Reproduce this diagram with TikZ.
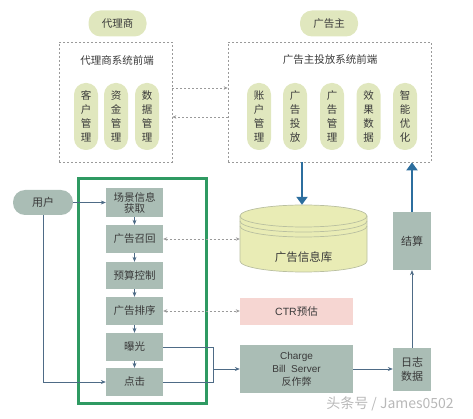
\documentclass[tikz,border=0pt]{standalone}
\usepackage{fontspec}
\setmainfont{Noto Sans CJK SC}
\newfontfamily\lat{Liberation Sans}
\usetikzlibrary{arrows.meta,calc}
\definecolor{pillg}{HTML}{E0E7BE}
\definecolor{boxg}{HTML}{AABDB5}
\definecolor{dbfill}{HTML}{E9ECB5}
\definecolor{dbline}{HTML}{B9BFA0}
\definecolor{ctrp}{HTML}{F6D6D2}
\definecolor{frameg}{HTML}{2F9A62}
\definecolor{arrc}{HTML}{4E6B86}
\definecolor{thickb}{HTML}{2C6E9E}
\definecolor{dashc}{HTML}{9A9A9A}
\definecolor{txt}{HTML}{3A3A3A}
\begin{document}
\begin{tikzpicture}[x=1pt,y=-1pt,
  font=\fontsize{10}{12}\selectfont, text=txt,
  pill/.style={fill=pillg, draw=none, rounded corners=12pt, inner sep=0pt, minimum width=58pt, minimum height=26pt, font=\fontsize{10.5}{12}\selectfont},
  vpill/.style={fill=pillg, draw=none, rounded corners=11.5pt, inner sep=0pt, minimum width=24pt, minimum height=67pt, align=center, font=\fontsize{10.5}{14}\selectfont},
  dbox/.style={draw=dashc, dash pattern=on 2pt off 2pt, line width=0.7pt, inner sep=0pt},
  proc/.style={fill=boxg, draw=none, inner sep=0pt, minimum width=57pt, align=center, font=\fontsize{10.5}{12}\selectfont},
  gbox/.style={fill=boxg, draw=none, inner sep=0pt, align=center},
  arr/.style={draw=arrc, line width=0.6pt, -{Stealth[length=5pt,width=4pt]}},
  ln/.style={draw=arrc, line width=0.6pt},
  darr/.style={draw=dashc, line width=0.6pt, dash pattern=on 2pt off 2pt, {Stealth[length=4pt,width=3.5pt]}-{Stealth[length=4pt,width=3.5pt]}},
  sarr/.style={draw=dashc, line width=0.6pt, dash pattern=on 2pt off 2pt, -{Stealth[length=4pt,width=3.5pt]}},
  thick arr/.style={draw=thickb, line width=2.6pt, -{Triangle[length=8pt,width=11pt]}}
]
\useasboundingbox (0,0) rectangle (473,419);

% top pills
\node[pill] (agent) at (117.5,23.5) {代理商};
\node[pill] (adv) at (329,23.5) {广告主};

% dashed boxes
\node[dbox, minimum width=113pt, minimum height=120pt] (fl) at (115.5,102) {};
\node[dbox, minimum width=203pt, minimum height=120pt] (fr) at (329.5,102) {};
\node[font=\fontsize{10.5}{12}\selectfont] (flt) at (117,60) {代理商系统前端};
\node[font=\fontsize{10.5}{12}\selectfont] (frt) at (330,60) {广告主投放系统前端};

% vertical pills
\node[vpill] (p1) at (86,116.5) {客\\户\\管\\理};
\node[vpill] (p2) at (116,116.5) {资\\金\\管\\理};
\node[vpill] (p3) at (147,116.5) {数\\据\\管\\理};
\node[vpill] (q1) at (259,116.5) {账\\户\\管\\理};
\node[vpill] (q2) at (295,116.5) {广\\告\\投\\放};
\node[vpill] (q3) at (332,116.5) {广\\告\\管\\理};
\node[vpill] (q4) at (368.5,116.5) {效\\果\\数\\据};
\node[vpill] (q5) at (405,116.5) {智\\能\\优\\化};

% arrows between front ends
\draw[sarr] ([yshift=14pt]fl.east) -- ([yshift=14pt]fl.east -| fr.west);
\draw[sarr] ([yshift=-15pt]fr.west) -- ([yshift=-15pt]fr.west -| fl.east);

% user
\node[fill=boxg, rounded corners=12pt, inner sep=0pt, minimum width=60pt, minimum height=25pt, font=\fontsize{11}{12}\selectfont] (user) at (43,202.5) {用户};

% green frame
\draw[frameg, line width=3pt] (78,179) rectangle (206,403);

% process boxes
\node[proc, minimum height=29pt, font=\fontsize{10.5}{11}\selectfont] (s1) at (134.5,202.5) {场景信息\\获取};
\node[proc, minimum height=28pt] (s2) at (134.5,239) {广告召回};
\node[proc, minimum height=27pt] (s3) at (134.5,275.5) {预算控制};
\node[proc, minimum height=28pt] (s4) at (134.5,311) {广告排序};
\node[proc, minimum height=28pt] (s5) at (134.5,347) {曝光};
\node[proc, minimum height=28pt] (s6) at (134.5,382) {点击};

% database
\fill[dbfill] (240,216) -- (240,261) arc[start angle=180, end angle=360, x radius=63.5pt, y radius=11pt] -- (367,216) arc[start angle=0, end angle=180, x radius=63.5pt, y radius=11pt] -- cycle;
\draw[dbline, line width=0.7pt] (240,216) -- (240,261) arc[start angle=180, end angle=360, x radius=63.5pt, y radius=11pt] -- (367,216);
\draw[dbline, line width=0.7pt] (303.5,216) ellipse[x radius=63.5pt, y radius=11pt];
\draw[dbline, line width=0.7pt] (240,221) arc[start angle=180, end angle=360, x radius=63.5pt, y radius=11pt];
\draw[dbline, line width=0.7pt] (240,226) arc[start angle=180, end angle=360, x radius=63.5pt, y radius=11pt];
\node[inner sep=0pt, minimum width=127pt, minimum height=67pt] (db) at (303.5,238.5) {};
\node[font=\fontsize{11.5}{13}\selectfont] (dbt) at (303.5,257) {广告信息库};

% right column
\node[gbox, minimum width=38pt, minimum height=58pt, font=\fontsize{11}{12}\selectfont] (js) at (412,241) {结算};
\node[fill=ctrp, inner sep=0pt, minimum width=113pt, minimum height=27pt, font=\fontsize{10.5}{12}\selectfont] (ctr) at (296.5,311.5) {{\lat CTR}预估};
\node[gbox, minimum width=113pt, minimum height=48pt, font=\fontsize{10}{13}\selectfont] (chg) at (296.5,369) {{\lat Charge}\\{\lat Bill\ \ Server}\\反作弊};
\node[gbox, minimum width=38pt, minimum height=43pt, font=\fontsize{11}{14}\selectfont] (log) at (412,369.5) {日志\\数据};

% flow connectors
\draw[arr] (user.east) -- (s1.west);
\draw[arr] (user.south) |- (s6.west);
\draw[arr] (s1) -- (s2);
\draw[arr] (s2) -- (s3);
\draw[arr] (s3) -- (s4);
\draw[arr] (s4) -- (s5);
\draw[arr] (s5) -- (s6);
\coordinate (J) at (213,369);
\draw[ln] (s5.east) -| (J);
\draw[ln] (s6.east) -| (J);
\draw[arr] (J) -- (chg.west);
\draw[darr] (s2.east) -- (s2.east -| db.west);
\draw[darr] (s4.east) -- (s4.east -| ctr.west);
\draw[arr] (chg.east) -- (chg.east -| log.west);
\draw[arr] (log.north) -- (js.south);

% thick arrows
\draw[thick arr] (fr.south -| 302,0) -- (db.north -| 302,0);
\draw[thick arr] (js.north) -- (js.north |- fr.south);

% watermark
\node[text=black!28, font=\fontsize{14}{16}\selectfont] (wm) at (390,404) {头条号 / James0502};
\end{tikzpicture}
\end{document}
